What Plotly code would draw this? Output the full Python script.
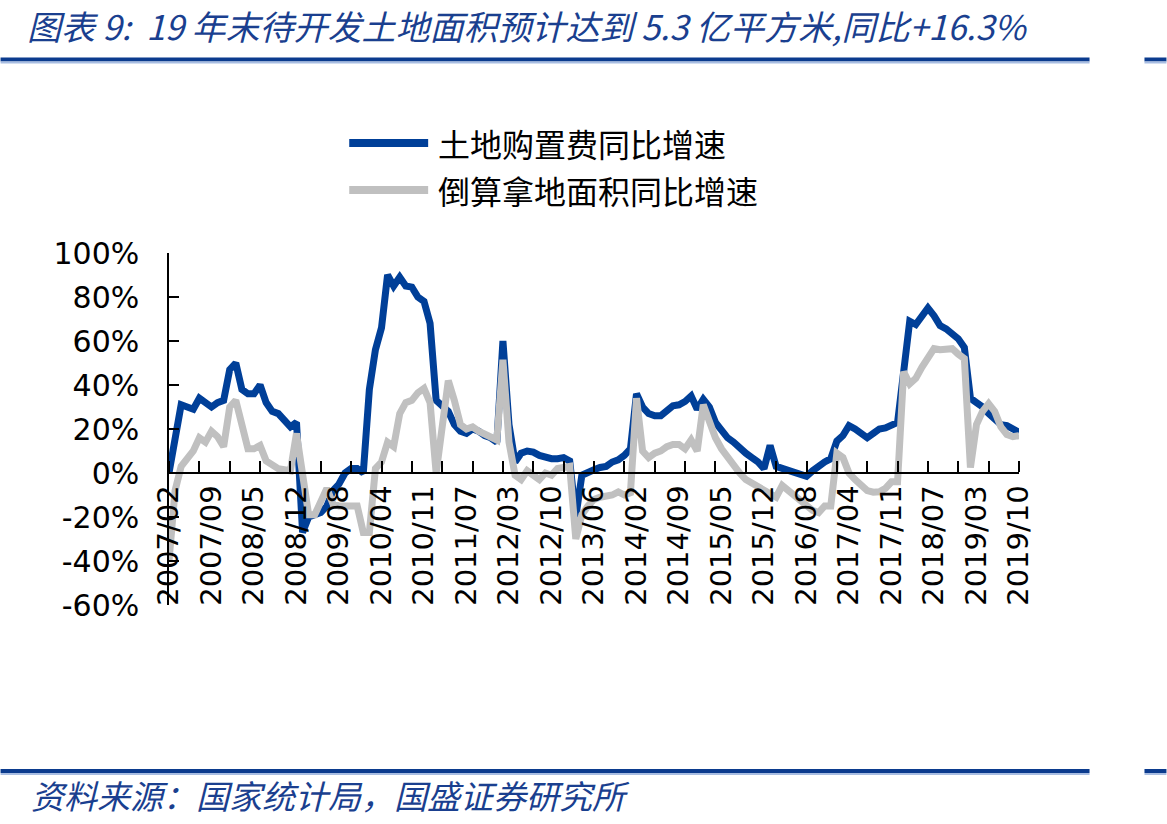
import plotly.graph_objects as go

# ---------------- data ----------------
years = list(range(2007, 2020))
months = [f"{y}/{m:02d}" for y in years for m in range(2, 13) if not (y == 2019 and m > 10)]

land_cost_yoy = [
    0, 15, 31, 30, 29, 34, 32, 30, 32, 33, 47, 50, 38, 36, 36, 40, 32, 28, 27, 24,
    21, 23, -27, -20, -19, -18, -15, -8, -5, 0, 2, 2, 0, 38, 56, 66, 90, 85, 89, 85,
    84.5, 80, 78, 68, 33, 30, 28, 22, 19, 18, 20, 19, 17, 16, 14, 60, 22, 5, 9, 10,
    9.5, 8, 7, 6.5, 6.5, 7, 5.5, -20, -1, 0.5, 1.5, 2.5, 3, 5, 6, 8, 11, 36, 30, 27,
    26, 26, 28.5, 30.5, 31, 32.5, 35, 29, 33.5, 30, 23, 19, 16, 14, 11, 9, 7, 5, 2, 12.5,
    3, 2, 1.5, 0.5, -1, -1.5, 1, 3.5, 5, 6.5, 14.5, 17, 21.5, 20, 18, 16, 18, 20, 20.5, 21.5,
    23, 46, 69, 67.5, 71, 75, 71.5, 67, 65.5, 63.5, 61, 57, 34, 32, 30, 27, 24, 22, 21.5, 20,
    18.5,
]

land_area_yoy = [
    -40, -8, 3, 7, 10, 16, 14, 19, 16.5, 12, 30, 33, 23, 11, 11, 12.5, 5.5, 4, 2, 1.5,
    1, 18, -1, -19, -19, -13, -7, -14, -15, -15, -15, -15, -27, -27, 2, 5, 14, 12, 27, 32,
    33, 36.5, 38.5, 32, 0, 21, 42, 33, 22, 20, 21, 19, 17.5, 16.5, 15, 51.5, 14, -1, -3, 1,
    -1, -3, 0, -1, 2, 2.6, 3, -30, -19, -15, -12, -11, -10.5, -10, -8.6, -10, -9, 34, 10, 7,
    9, 10, 12, 13, 13, 11, 15, 10, 31, 23, 16, 11, 7, 4, 0, -3, -4.5, -5.7, -8, -9.5,
    -11, -5.7, -8, -11, -13, -15, -17, -18, -15, -15, 9, 7, 0, -3, -6, -8, -8.7, -8.5, -7, -4,
    -4, 46, 40.5, 43, 48, 53, 56.5, 56, 56, 56.5, 54, 52, 2.5, 22, 28, 31.5, 28, 21, 17.5, 16.5,
    17,
]

tick_labels = ["2007/02", "2007/09", "2008/05", "2008/12", "2009/08", "2010/04", "2010/11",
               "2011/07", "2012/03", "2012/10", "2013/06", "2014/02", "2014/09", "2015/05",
               "2015/12", "2016/08", "2017/04", "2017/11", "2018/07", "2019/03", "2019/10"]

y_ticks = [-60, -40, -20, 0, 20, 40, 60, 80, 100]
y_tick_labels = ["-60%", "-40%", "-20%", "0%", "20%", "40%", "60%", "80%", "100%"]

series_names = ["土地购置费同比增速", "倒算拿地面积同比增速"]
title_text = "图表 9:  19 年末待开发土地面积预计达到 5.3 亿平方米,同比+16.3%"
source_text = "资料来源：国家统计局，国盛证券研究所"

# ---------------- layout helpers ----------------
W, H = 1167, 824
PL, PR, PT, PB = 168.6, 1019.4, 253.0, 605.0


def fx(px):
    return (px - PL) / (PR - PL)


def fy(py):
    return (PB - py) / (PB - PT)


BLUE = "#003f98"
GRAY = "#c0c0c0"
RULE = "#0b3b8e"
TEXT_BLUE = "#1a3f8f"

x_idx = list(range(len(months)))
tickvals = [months.index(t) for t in tick_labels]

fig = go.Figure()
fig.add_trace(go.Scatter(x=x_idx, y=land_cost_yoy, mode="lines", name=series_names[0],
                         line=dict(color=BLUE, width=7), customdata=months,
                         hovertemplate="%{customdata}: %{y}%<extra></extra>"))
fig.add_trace(go.Scatter(x=x_idx, y=land_area_yoy, mode="lines", name=series_names[1],
                         line=dict(color=GRAY, width=7), customdata=months,
                         hovertemplate="%{customdata}: %{y}%<extra></extra>"))

shapes = []
# horizontal rules (top and bottom)
for yy in (59.5, 771):
    for xa, xb in ((0, 1090), (1145, 1167)):
        shapes.append(dict(type="line", xref="paper", yref="paper", x0=fx(xa), x1=fx(xb),
                           y0=fy(yy), y1=fy(yy), line=dict(color=RULE, width=4)))
        shapes.append(dict(type="line", xref="paper", yref="paper", x0=fx(xa), x1=fx(xb),
                           y0=fy(yy + 3), y1=fy(yy + 3), line=dict(color="#a8bde2", width=2)))

legend_rows = [(143, BLUE, series_names[0]), (190, GRAY, series_names[1])]

annotations = [
    dict(text=title_text, xref="paper", yref="paper", x=fx(24), y=fy(25), xanchor="left",
         yanchor="middle", showarrow=False,
         font=dict(family="Noto Sans CJK SC", size=34, color=TEXT_BLUE, style="italic")),
    dict(text=source_text, xref="paper", yref="paper", x=fx(28), y=fy(795), xanchor="left",
         yanchor="middle", showarrow=False,
         font=dict(family="Noto Sans CJK SC", size=33, color=TEXT_BLUE, style="italic")),
]

# legend samples + labels
for yy, col, name in legend_rows:
    shapes.append(dict(type="line", xref="paper", yref="paper", x0=fx(349), x1=fx(428),
                       y0=fy(yy), y1=fy(yy), line=dict(color=col, width=8)))
    annotations.append(dict(text=name, xref="paper", yref="paper", x=fx(436), y=fy(yy),
                            xanchor="left", yanchor="middle", showarrow=False,
                            font=dict(family="Noto Sans CJK SC", size=32, color="black")))

fig.update_layout(
    template="none",
    width=W, height=H,
    margin=dict(l=PL, r=W - PR, t=PT, b=H - PB, pad=0),
    paper_bgcolor="white", plot_bgcolor="white",
    showlegend=False,
    shapes=shapes,
    annotations=annotations,
    xaxis=dict(
        range=[0, len(months) - 1],
        anchor="free", position=60 / 160,
        tickmode="array", tickvals=tickvals, ticktext=tick_labels,
        tickangle=-90, ticks="", showgrid=False, zeroline=False,
        showline=True, linecolor="black", linewidth=1.5,
        tickfont=dict(family="DejaVu Sans", size=29, color="black"),
        minor=dict(tickmode="linear", tick0=0, dtick=5, ticks="inside", ticklen=11,
                   tickcolor="black", tickwidth=1.5, showgrid=False),
        automargin=False,
    ),
    yaxis=dict(
        range=[-60, 100], tickmode="array", tickvals=y_ticks, ticktext=y_tick_labels,
        ticks="inside", ticklen=10, tickcolor="black", tickwidth=1.5,
        showline=True, linecolor="black", linewidth=1.5,
        showgrid=False, zeroline=False,
        tickfont=dict(family="DejaVu Sans", size=30, color="black"),
        ticklabelstandoff=22,
        automargin=False,
    ),
)

fig.write_html("out.html")
